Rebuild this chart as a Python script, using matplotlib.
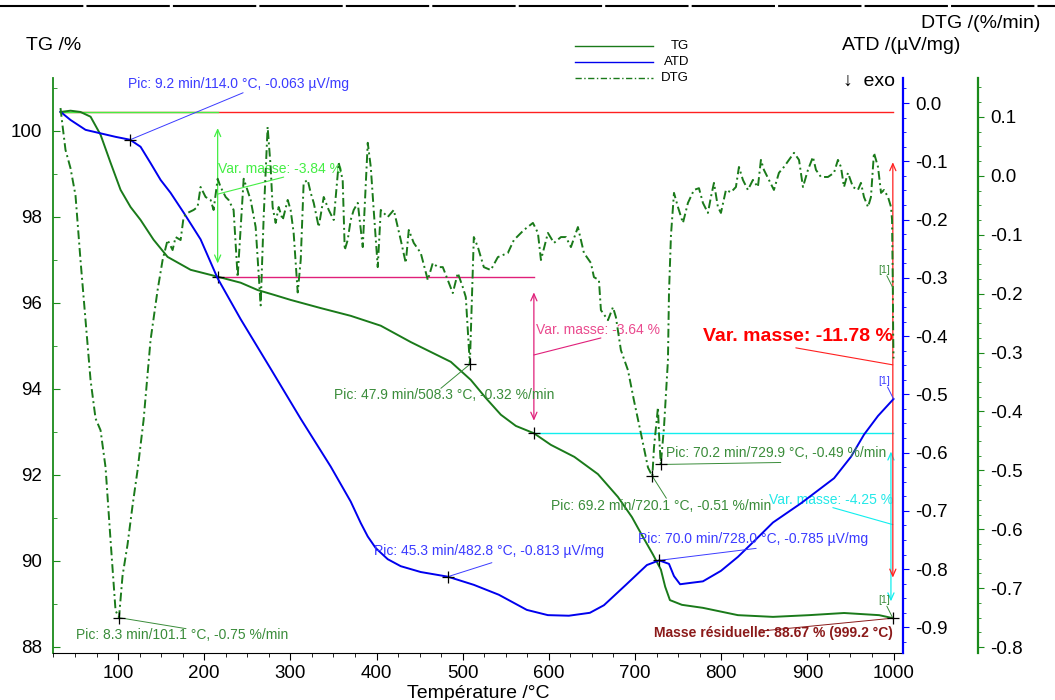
import matplotlib
matplotlib.use('Agg')
import matplotlib.pyplot as plt
from matplotlib.lines import Line2D
from matplotlib.ticker import MultipleLocator, FormatStrFormatter

plt.rcParams['font.family'] = ['Liberation Sans', 'DejaVu Sans']
plt.rcParams['axes.unicode_minus'] = False

# --- TG (%) ---
tg_temp = [33.2, 44.8, 56.4, 68.1, 79.7, 91.3, 102.9, 114.5, 126.1, 141.2, 157.5, 184.2,
           215.6, 242.3, 262.0, 280.6, 300.3, 335.2, 370.0, 404.9, 439.7, 486.2, 509.4,
           526.8, 544.3, 561.7, 582.6, 602.3, 629.6, 656.9, 680.1, 696.4, 708.0, 720.8,
           730.0, 735.0, 740.5, 754.4, 778.8, 819.4, 860.1, 901.9, 942.6, 983.3, 999.2]
tg_mass = [100.44, 100.47, 100.44, 100.33, 99.91, 99.26, 98.63, 98.23, 97.93, 97.47, 97.07, 96.77,
           96.61, 96.47, 96.30, 96.19, 96.07, 95.88, 95.70, 95.47, 95.09, 94.63, 94.21,
           93.79, 93.40, 93.14, 92.97, 92.70, 92.42, 92.02, 91.49, 91.02, 90.60, 90.15,
           89.80, 89.40, 89.09, 88.98, 88.91, 88.74, 88.70, 88.74, 88.79, 88.74, 88.67]

# --- ATD (µV/mg) ---
atd_temp = [33.2, 44.8, 62.3, 79.7, 97.1, 114.0, 126.1, 137.7, 149.4, 160.9, 176.1, 195.8,
            215.6, 242.3, 277.1, 312.0, 346.8, 370.0, 381.7, 389.8, 399.1, 413.0, 428.1,
            451.3, 482.8, 512.9, 541.9, 574.4, 598.8, 623.2, 647.6, 663.9, 689.4, 713.8,
            728.0, 739.4, 745.2, 752.3, 762.6, 778.8, 799.7, 819.4, 840.3, 860.1, 892.6,
            931.0, 950.7, 965.8, 982.0, 1000.0]
atd_signal = [-0.015, -0.029, -0.046, -0.052, -0.058, -0.063, -0.075, -0.103, -0.132, -0.154, -0.188, -0.234,
              -0.301, -0.371, -0.456, -0.542, -0.624, -0.684, -0.721, -0.744, -0.764, -0.783, -0.795,
              -0.805, -0.813, -0.827, -0.844, -0.870, -0.879, -0.880, -0.875, -0.862, -0.827, -0.793,
              -0.785, -0.791, -0.812, -0.826, -0.824, -0.821, -0.803, -0.779, -0.749, -0.720, -0.687,
              -0.644, -0.607, -0.569, -0.537, -0.508]

# --- DTG (%/min) ---
dtg_temp = [33.2, 35.5, 39.0, 44.8, 50.6, 56.4, 62.3, 68.1, 73.9, 79.7,
            85.5, 91.3, 97.1, 101.1, 105.2, 111.0, 116.8, 122.6, 129.6, 137.7,
            145.9, 151.7, 157.5, 163.3, 166.8, 172.6, 176.1, 180.7, 187.7, 192.3,
            195.8, 201.6, 207.4, 210.9, 215.6, 219.0, 224.9, 228.3, 234.1, 238.8,
            242.3, 245.8, 253.9, 259.7, 265.5, 269.0, 273.6, 277.1, 279.4, 282.9,
            286.4, 291.1, 296.9, 300.3, 303.8, 308.5, 312.0, 315.4, 320.1, 323.6,
            327.1, 332.9, 338.7, 344.5, 350.3, 356.1, 360.7, 363.1, 366.5, 370.0,
            373.5, 378.2, 384.0, 389.8, 393.3, 396.7, 401.4, 404.9, 413.0, 420.0,
            428.1, 433.9, 437.4, 443.2, 451.3, 459.5, 465.3, 471.1, 476.9, 482.7,
            488.5, 494.3, 500.1, 503.6, 508.3, 512.9, 517.6, 524.5, 532.6, 540.8,
            552.4, 559.4, 571.0, 581.5, 587.3, 590.8, 598.9, 605.9, 614.0, 619.8,
            625.6, 633.7, 637.2, 640.7, 648.8, 652.3, 658.1, 660.4, 668.6, 674.4,
            677.8, 683.6, 691.8, 698.7, 706.8, 715.0, 720.1, 722.0, 726.6, 727.8,
            729.9, 733.6, 738.2, 739.4, 741.7, 745.2, 749.8, 755.6, 761.4, 768.4,
            774.2, 778.8, 784.6, 788.1, 791.6, 796.2, 799.7, 805.5, 811.3, 817.1,
            820.6, 825.2, 831.0, 836.8, 842.6, 846.1, 849.6, 855.4, 861.2, 867.0,
            872.8, 878.6, 884.5, 890.3, 894.9, 900.7, 906.5, 910.0, 915.8, 923.9,
            930.9, 935.5, 939.0, 942.5, 947.1, 952.9, 958.7, 962.2, 965.7, 970.4,
            973.8, 977.3, 982.0, 985.5, 989.0, 993.6, 997.1, 998.3, 999.2, 999.6,
            1000.0]
dtg_rate = [0.115, 0.086, 0.044, 0.013, -0.033, -0.143, -0.245, -0.347, -0.412, -0.432,
            -0.495, -0.619, -0.738, -0.750, -0.679, -0.626, -0.560, -0.500, -0.415, -0.279,
            -0.194, -0.143, -0.109, -0.126, -0.104, -0.109, -0.070, -0.063, -0.058, -0.053,
            -0.019, -0.036, -0.041, -0.058, -0.005, -0.019, -0.036, -0.041, -0.058, -0.172,
            -0.087, -0.005, -0.041, -0.087, -0.220, -0.070, 0.083, 0.015, -0.053, -0.080,
            -0.053, -0.075, -0.041, -0.058, -0.097, -0.198, -0.143, -0.012, -0.007, -0.029,
            -0.046, -0.087, -0.036, -0.058, -0.075, 0.022, -0.007, -0.126, -0.109, -0.075,
            -0.058, -0.046, -0.121, 0.056, 0.015, -0.058, -0.155, -0.058, -0.070, -0.058,
            -0.109, -0.148, -0.092, -0.114, -0.131, -0.177, -0.148, -0.155, -0.155, -0.177,
            -0.199, -0.165, -0.189, -0.206, -0.320, -0.104, -0.121, -0.155, -0.160, -0.138,
            -0.131, -0.109, -0.092, -0.080, -0.097, -0.143, -0.097, -0.114, -0.104, -0.104,
            -0.121, -0.087, -0.109, -0.131, -0.148, -0.172, -0.177, -0.228, -0.245, -0.223,
            -0.240, -0.296, -0.330, -0.381, -0.437, -0.495, -0.510, -0.461, -0.393, -0.437,
            -0.490, -0.427, -0.313, -0.199, -0.101, -0.029, -0.053, -0.080, -0.046, -0.024,
            -0.021, -0.046, -0.063, -0.036, -0.012, -0.053, -0.063, -0.024, -0.028, -0.019,
            0.015, -0.007, -0.024, -0.007, -0.019, 0.027, 0.010, -0.007, -0.024, 0.005,
            0.015, 0.027, 0.039, 0.027, -0.019, 0.010, 0.032, 0.010, -0.002, -0.002,
            0.005, 0.027, 0.015, -0.019, 0.005, -0.019, -0.024, -0.012, -0.036, -0.053,
            -0.036, 0.039, 0.015, -0.029, -0.024, -0.036, -0.053, -0.075, -0.190, -0.270,
            -0.310]

# pics (min, °C, value)
atd_pic_time = [9.2, 45.3, 70.0]
atd_pic_temp = [114.0, 482.8, 728.0]
atd_pic_val = [-0.063, -0.813, -0.785]
dtg_pic_time = [8.3, 47.9, 69.2, 70.2]
dtg_pic_temp = [101.1, 508.3, 720.1, 729.9]
dtg_pic_val = [-0.75, -0.32, -0.51, -0.49]

# mass changes
step_temp = [33.2, 215.6, 582.6, 999.2]
step_var = [-3.84, -3.64, -4.25]
var_totale = -11.78
masse_res = 88.67
temp_res = 999.2

C_TG = '#1a7a1a'
C_ATD = '#0000ee'
C_TXT_G = '#3a8c3a'
C_TXT_B = '#3b3bff'

fig = plt.figure(figsize=(10.55, 7), dpi=100)
ax = fig.add_axes([53 / 1055, 1 - 653 / 700, 850 / 1055, 575 / 700])
ax2 = ax.twinx()
ax3 = ax.twinx()
ax3.spines['right'].set_position(('axes', 1 + 75 / 850))

ax.set_xlim(24.5, 1011)
ax.set_ylim(87.86, 101.23)
ax2.set_ylim(-0.944, 0.043)
ax3.set_ylim(-0.81, 0.166)

# spines
ax.spines['top'].set_visible(False)
ax.spines['right'].set_visible(False)
ax.spines['left'].set_color('#1a8a1a')
ax.spines['left'].set_linewidth(1.3)
for a, c in ((ax2, '#0000ff'), (ax3, '#1a8a1a')):
    for s in ('top', 'bottom', 'left'):
        a.spines[s].set_visible(False)
    a.spines['right'].set_color(c)
    a.spines['right'].set_linewidth(1.6)

# ticks
ax.xaxis.set_major_locator(MultipleLocator(100))
ax.xaxis.set_minor_locator(MultipleLocator(25))
ax.yaxis.set_major_locator(MultipleLocator(2))
ax.yaxis.set_minor_locator(MultipleLocator(1))
ax.tick_params(axis='x', which='both', direction='out', labelsize=13.5, pad=3.5)
ax.tick_params(axis='x', which='major', length=5)
ax.tick_params(axis='x', which='minor', length=3)
ax.tick_params(axis='y', which='both', direction='in', color='#1a8a1a', labelsize=13.5, pad=8)
ax.tick_params(axis='y', which='major', length=5)
ax.tick_params(axis='y', which='minor', length=3)

ax2.yaxis.set_major_locator(MultipleLocator(0.1))
ax2.yaxis.set_minor_locator(MultipleLocator(0.025))
ax2.yaxis.set_major_formatter(FormatStrFormatter('%.1f'))
ax2.tick_params(axis='y', which='both', direction='out', color='#0000ff', labelsize=13.5, pad=4.5)
ax2.tick_params(axis='y', which='major', length=4)
ax2.tick_params(axis='y', which='minor', length=2.5)

ax3.yaxis.set_major_locator(MultipleLocator(0.1))
ax3.yaxis.set_minor_locator(MultipleLocator(0.025))
ax3.yaxis.set_major_formatter(FormatStrFormatter('%.1f'))
ax3.tick_params(axis='y', which='both', direction='out', color='#1a8a1a', labelsize=13.5, pad=5)
ax3.tick_params(axis='y', which='major', length=4)
ax3.tick_params(axis='y', which='minor', length=2.5)

ax.set_xlabel('Température /°C', fontsize=14, labelpad=2)

# mass change levels
levels = [masse_res - var_totale]
for v in step_var:
    levels.append(levels[-1] + v)
step_cols = ['#44ee44', '#e0207a', '#11eeee']
txt_cols = ['#44ee44', '#ea4a8e', '#22e8e8']

ax.plot([step_temp[0], step_temp[-1]], [levels[0], levels[0]], color='#ff2020', lw=1.0)
for i in range(3):
    ax.plot([step_temp[i], step_temp[i + 1]], [levels[i], levels[i]], color=step_cols[i], lw=1.0)


def step_arrow(T, top, bot, col):
    h = top - bot
    ax.annotate('', xy=(T, top - 0.1 * h), xytext=(T, bot + 0.08 * h),
                arrowprops=dict(arrowstyle='<->,head_length=0.5,head_width=0.22',
                                color=col, lw=0.9, shrinkA=0, shrinkB=0))


arrow_temp = [step_temp[1], step_temp[2], 997.0]
lead = [(66, 17), (67, 17), (-60, 17)]
txt_off = [(0, 25), (2, 25), (0, 25)]
txt_ha = ['left', 'left', 'right']
for i in range(3):
    step_arrow(arrow_temp[i], levels[i], levels[i + 1], step_cols[i])
    mid = (levels[i] + levels[i + 1]) / 2
    T = step_temp[i + 1] if i < 2 else temp_res
    ax.annotate('', xy=(T, mid), xytext=lead[i], textcoords='offset pixels',
                arrowprops=dict(arrowstyle='-', color=step_cols[i], lw=0.8, shrinkA=0, shrinkB=0))
    ax.annotate(f'Var. masse: {step_var[i]:.2f} %', xy=(T, mid), xytext=txt_off[i],
                textcoords='offset pixels', color=txt_cols[i], fontsize=10,
                ha=txt_ha[i], va='center')

# total change
step_arrow(temp_res, levels[0], masse_res, '#ff2020')
mid = (levels[0] + masse_res) / 2
ax.annotate('', xy=(temp_res, mid), xytext=(-97, 17), textcoords='offset pixels',
            arrowprops=dict(arrowstyle='-', color='#ff2020', lw=0.8, shrinkA=0, shrinkB=0))
ax.annotate(f'Var. masse: {var_totale:.2f} %', xy=(temp_res, mid), xytext=(0, 28),
            textcoords='offset pixels', color='#ff0000', fontsize=14, fontweight='bold',
            ha='right', va='center')

# curves
ax.plot(tg_temp, tg_mass, color=C_TG, lw=1.4)
ax2.plot(atd_temp, atd_signal, color=C_ATD, lw=1.4)
ax3.plot(dtg_temp, dtg_rate, color=C_TG, lw=1.4, linestyle=(0, (4.5, 1.8, 1, 1.8)))


def pic_note(a, T, v, text, col, lead, txt, ha='left', **kw):
    a.plot(T, v, '+', color='k', ms=9, mew=0.9, zorder=5)
    a.annotate('', xy=(T, v), xytext=lead, textcoords='offset pixels',
               arrowprops=dict(arrowstyle='-', color=col, lw=0.7, shrinkA=0, shrinkB=0))
    a.annotate(text, xy=(T, v), xytext=txt, textcoords='offset pixels', color=col,
               fontsize=10, ha=ha, va='center', **kw)


atd_lead = [(113, 47), (44, 14), (97, 12)]
atd_txt = [(-2, 56), (-74, 26), (-21, 21)]
for i in range(3):
    pic_note(ax2, atd_pic_temp[i], atd_pic_val[i],
             f'Pic: {atd_pic_time[i]:.1f} min/{atd_pic_temp[i]:.1f} °C, {atd_pic_val[i]:.3f} µV/mg',
             C_TXT_B, atd_lead[i], atd_txt[i])

dtg_lead = [(67, -11), (-29, -24), (14, -22), (120, 2)]
dtg_txt = [(-43, -17), (-136, -31), (-101, -30), (5, 11)]
for i in range(4):
    pic_note(ax3, dtg_pic_temp[i], dtg_pic_val[i],
             f'Pic: {dtg_pic_time[i]:.1f} min/{dtg_pic_temp[i]:.1f} °C, {dtg_pic_val[i]:.2f} %/min',
             C_TXT_G, dtg_lead[i], dtg_txt[i])

# step crosses
ax.plot(step_temp[1:3], levels[1:3], '+', color='k', ms=9, mew=0.9, zorder=5)

# residual mass
pic_note(ax, temp_res, masse_res,
         f'Masse résiduelle: {masse_res:.2f} % ({temp_res:.1f} °C)',
         '#8b1a1a', (-133, -13), (0, -15), ha='right', fontweight='bold')

# end-of-curve tags
for a, T, v, col in ((ax, temp_res, masse_res, C_TXT_G),
                     (ax2, atd_temp[-1], atd_signal[-1], C_TXT_B),
                     (ax3, dtg_temp[-3], dtg_rate[-3], C_TXT_G)):
    a.annotate('', xy=(T, v), xytext=(-6, 12), textcoords='offset pixels',
               arrowprops=dict(arrowstyle='-', color=col, lw=0.7, shrinkA=0, shrinkB=0))
    a.annotate('[1]', xy=(T, v), xytext=(-9, 18), textcoords='offset pixels',
               color=col, fontsize=7.5, ha='center', va='center')

# axis titles
fig.text(26 / 1055, 1 - 45 / 700, 'TG /%', fontsize=14, ha='left', va='center')
fig.text(1040 / 1055, 1 - 23 / 700, 'DTG /(%/min)', fontsize=14, ha='right', va='center')
fig.text(842 / 1055, 1 - 45 / 700, 'ATD /(µV/mg)', fontsize=14, ha='left', va='center')
fig.text(843 / 1055, 1 - 81 / 700, '↓  exo', fontsize=14, ha='left', va='center')

# legend
for y, col, ls, lab in ((46, C_TG, '-', 'TG'), (62, C_ATD, '-', 'ATD'),
                        (78, C_TG, (0, (4.5, 1.8, 1, 1.8)), 'DTG')):
    fig.add_artist(Line2D([575 / 1055, 653 / 1055], [1 - y / 700] * 2,
                          color=col, lw=1.0, linestyle=ls))
    fig.text(689 / 1055, 1 - y / 700, lab, fontsize=9.5, ha='right', va='center')

# separator at the top
fig.add_artist(Line2D([0, 1], [1 - 6 / 700] * 2, color='k', lw=1.5, dashes=(40, 1.5)))

fig.savefig('out.png', dpi=100)
